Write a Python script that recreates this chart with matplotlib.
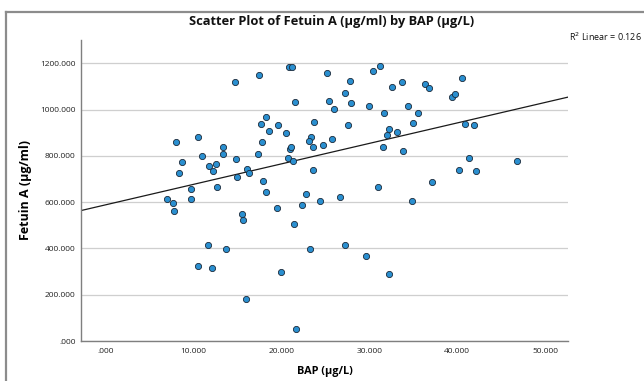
import numpy as np
import matplotlib
matplotlib.use("Agg")
import matplotlib.pyplot as plt
from matplotlib.lines import Line2D

# ---- data ----
bap = [8.02, 8.67, 8.40, 10.56, 11.01, 11.81, 12.20, 12.54, 13.37, 13.40,
       12.68, 9.76, 14.73, 17.43, 14.88, 14.93, 16.10, 16.29, 17.31, 17.84,
       17.69, 18.30, 18.57, 17.95,
       20.88, 21.25, 25.23, 27.85, 30.40, 31.26, 33.77, 32.56, 36.31, 36.80,
       21.52, 27.25, 25.43, 27.96, 25.96, 29.98, 31.65, 34.41, 35.52, 35.02,
       19.66, 20.57, 23.69, 27.62, 32.29, 33.20, 31.99, 23.34, 23.12, 25.73,
       20.99, 21.07, 23.64, 24.78, 31.54, 33.88, 20.76, 21.30, 23.61, 31.04,
       40.56, 39.39, 39.80, 40.93, 41.96, 41.35, 46.81, 40.22, 42.12, 37.18,
       34.83,
       18.26, 22.81, 19.54, 22.39, 24.44, 26.71, 21.44, 23.23, 27.28, 29.64,
       20.00, 32.29, 21.63,
       6.98, 7.71, 7.83, 9.69, 15.49, 15.68, 11.66, 13.71, 10.49, 12.08, 15.95]
fetuin = [861, 774, 727, 882, 801, 758, 736, 764, 840, 809,
          664, 657, 1118, 1151, 785, 710, 745, 726, 808, 860,
          939, 968, 909, 691,
          1183, 1183, 1157, 1125, 1167, 1187, 1121, 1099, 1109, 1092,
          1034, 1072, 1037, 1030, 1003, 1017, 985, 1014, 985, 942,
          933, 900, 948, 935, 917, 903, 892, 880, 863, 873,
          831, 840, 838, 847, 837, 820, 790, 779, 740, 665,
          1138, 1056, 1066, 936, 935, 790, 778, 738, 736, 687,
          606,
          645, 635, 576, 586, 605, 621, 507, 396, 416, 366,
          298, 288, 53,
          612, 595, 562, 612, 549, 522, 414, 398, 325, 317, 180]

x_ticks = [0, 10, 20, 30, 40, 50]
x_tick_labels = [".000", "10.000", "20.000", "30.000", "40.000", "50.000"]
y_ticks = [0, 200, 400, 600, 800, 1000, 1200]
y_tick_labels = [".000", "200.000", "400.000", "600.000", "800.000", "1000.000", "1200.000"]
r2_text = "R$^2$ Linear = 0.126"

title = "Scatter Plot of Fetuin A (µg/ml) by BAP (µg/L)"
x_label = "BAP (µg/L)"
y_label = "Fetuin A (µg/ml)"

# ---- figure ----
plt.rcParams['font.family'] = ['Open Sans', 'DejaVu Sans']
W, H = 644, 381
fig = plt.figure(figsize=(W / 100, H / 100), dpi=100)
fig.patch.set_facecolor('white')

# outer frame (left & top border as in reference)
fig.add_artist(Line2D([6 / W, 6 / W], [0, 1 - 12 / H], transform=fig.transFigure,
                      color='#8c8c8c', lw=1.6))
fig.add_artist(Line2D([6 / W, 1], [1 - 12 / H, 1 - 12 / H], transform=fig.transFigure,
                      color='#8c8c8c', lw=1.6))

left, right = 80.7 / W, 568.5 / W
bottom, top = 1 - 341 / H, 1 - 39.5 / H
ax = fig.add_axes([left, bottom, right - left, top - bottom])

xmin, xmax = -2.82, 52.65
ymin, ymax = 0, 1303
ax.set_xlim(xmin, xmax)
ax.set_ylim(ymin, ymax)

ax.set_yticks(y_ticks)
ax.set_yticklabels(y_tick_labels)
ax.set_xticks(x_ticks)
ax.set_xticklabels(x_tick_labels)
ax.tick_params(length=0, labelsize=6, colors='#222222')
ax.tick_params(axis='y', pad=3.5)
ax.tick_params(axis='x', pad=5)

ax.grid(axis='y', color='#cfcfcf', lw=0.9)
ax.set_axisbelow(True)
for s in ['top', 'right']:
    ax.spines[s].set_visible(False)
for s in ['left', 'bottom']:
    ax.spines[s].set_color('#7f7f7f')
    ax.spines[s].set_linewidth(1.0)

# regression line from data
slope, intercept = np.polyfit(bap, fetuin, 1)
xs = np.array([xmin, xmax])
ax.plot(xs, intercept + slope * xs, color='#1a1a1a', lw=0.9, zorder=2)

ax.scatter(bap, fetuin, s=20, facecolor='#2a8fd0', edgecolor='#1b2a3a',
           linewidths=0.6, zorder=3)

ax.set_xlabel(x_label, fontsize=7.8, fontweight='bold', labelpad=8)
ax.set_ylabel(y_label, fontsize=9, fontweight='bold', labelpad=6)

fig.text(332 / W, 1 - 22 / H, title, ha='center', va='center',
         fontsize=9.3, fontweight='bold', color='#111111')
fig.text(642 / W, 1 - 37 / H, r2_text, ha='right', va='center',
         fontsize=6.5, color='#111111')

fig.savefig('out.png', dpi=100, facecolor='white')
